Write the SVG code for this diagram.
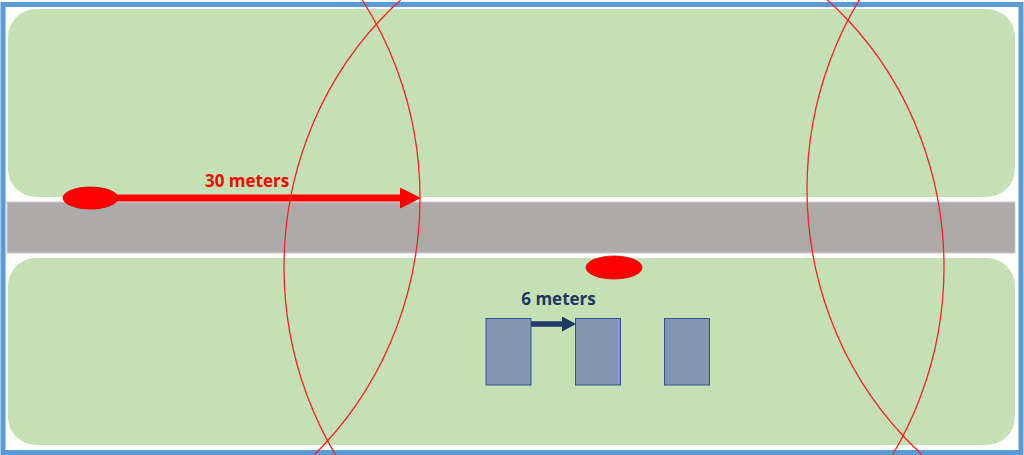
<svg xmlns="http://www.w3.org/2000/svg" width="1024" height="455" viewBox="0 0 1024 455">
  <style>
    .field { fill: #C5E0B4; }
    .road { fill: #AEAAAA; stroke: #D0CECE; stroke-width: 1; }
    .source { fill: #FF0000; stroke: #E00000; stroke-width: 0.8; }
    .house { fill: #8497B0; stroke: #2F5597; stroke-width: 1; }
    .range { fill: none; stroke: #FF2020; stroke-width: 1.3; }
    .lbl { font-family: "Open Sans", "Liberation Sans", sans-serif; font-weight: bold; font-size: 17px; }
  </style>
  <defs>
    <marker id="redHead" viewBox="0 0 21 21" refX="1" refY="10.5" markerWidth="21" markerHeight="21" markerUnits="userSpaceOnUse" orient="auto">
      <path d="M0,0 L21,10.5 L0,21 Z" fill="#FF0000"/>
    </marker>
    <marker id="navyHead" viewBox="0 0 14 15" refX="1" refY="7.5" markerWidth="14" markerHeight="15" markerUnits="userSpaceOnUse" orient="auto">
      <path d="M0,0 L14,7.5 L0,15 Z" fill="#203864"/>
    </marker>
  </defs>

  <rect x="0" y="0" width="1024" height="455" fill="#FFFFFF"/>

  <g id="frame">
    <rect x="3" y="4.5" width="1018" height="448" fill="#FFFFFF" stroke="#5B9BD5" stroke-width="5"/>
  </g>

  <g id="field-top">
    <rect class="field" x="8" y="9" width="1007" height="188" rx="28" ry="28"/>
  </g>
  <g id="road">
    <rect class="road" x="7" y="202" width="1008" height="51"/>
  </g>
  <g id="field-bottom">
    <rect class="field" x="8" y="258" width="1007" height="187" rx="28" ry="28"/>
  </g>

  <g id="connectors">
    <line x1="110" y1="198" x2="401" y2="198" stroke="#FF0000" stroke-width="7" marker-end="url(#redHead)"/>
    <line x1="531" y1="324" x2="563" y2="324" stroke="#203864" stroke-width="5.5" marker-end="url(#navyHead)"/>
  </g>

  <g id="source-top">
    <ellipse class="source" cx="90.5" cy="198" rx="27.5" ry="11"/>
  </g>
  <g id="source-bottom">
    <ellipse class="source" cx="614" cy="267.5" rx="28" ry="11.5"/>
  </g>

  <g id="house-1">
    <rect class="house" x="486" y="318.5" width="45" height="66.5"/>
  </g>
  <g id="house-2">
    <rect class="house" x="575.5" y="318.5" width="45" height="66.5"/>
  </g>
  <g id="house-3">
    <rect class="house" x="664.5" y="318.5" width="45" height="66.5"/>
  </g>

  <g id="label-30">
    <text class="lbl" x="247" y="187" fill="#FF0000" text-anchor="middle">30 meters</text>
  </g>
  <g id="label-6">
    <text class="lbl" x="558.5" y="305" fill="#203864" text-anchor="middle">6 meters</text>
  </g>

  <g id="ranges">
    <ellipse class="range" cx="90" cy="198" rx="330" ry="350"/>
    <ellipse class="range" cx="614" cy="267" rx="330" ry="350"/>
    <ellipse class="range" cx="1137" cy="189" rx="330" ry="350"/>
  </g>
</svg>
